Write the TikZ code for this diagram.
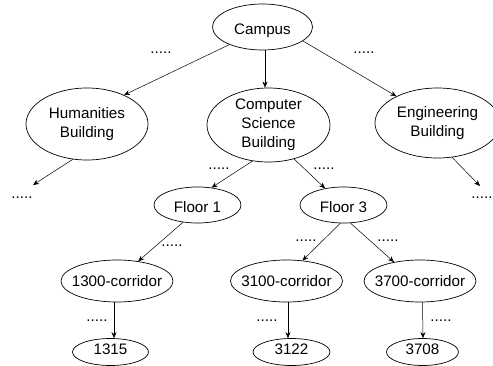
\documentclass[tikz,border=0pt]{standalone}
\usepackage{fontspec}
\setmainfont{Liberation Sans}
\usetikzlibrary{shapes.geometric,arrows.meta}
\begin{document}
\begin{tikzpicture}[x=1pt,y=-1pt,
  every node/.style={font=\fontsize{15.2}{19}\selectfont},
  ell/.style={draw, ellipse, line width=0.7pt, inner sep=0pt, align=center},
  low/.style={text height=15.5pt, text depth=0pt},
  corr/.style={ell, inner xsep=-6pt, minimum width=112pt, minimum height=42pt},
  room/.style={ell, minimum height=27pt, text depth=5pt},
  arr/.style={-{Stealth[length=6pt,width=5pt]}, line width=0.5pt},
  dotlbl/.style={inner sep=0pt}]
\useasboundingbox (0,0) rectangle (493,366);
\clip (0,0) rectangle (493,366);
% nodes
\node[ell, low, minimum width=100pt, minimum height=46pt] (campus) at (262.5,27) {Campus};
\node[ell, minimum width=122pt, minimum height=72pt] (hum) at (87,124) {Humanities\\Building};
\node[ell, inner ysep=-2pt, minimum width=123pt, minimum height=74pt] (cs) at (268.5,125) {Computer\\Science\\Building};
\node[ell, minimum width=125pt, minimum height=70pt] (eng) at (437.5,123) {Engineering\\Building};
\node[ell, low, minimum width=87pt, minimum height=36pt] (floor1) at (197.5,205) {Floor 1};
\node[ell, low, minimum width=87pt, minimum height=36pt] (floor3) at (343.5,205) {Floor 3};
\node[corr] (c1300) at (117,281) {1300-corridor};
\node[corr] (c3100) at (286.5,281) {3100-corridor};
\node[corr] (c3700) at (420,281) {3700-corridor};
\node[room, minimum width=76pt] (r1315) at (110.5,352) {1315};
\node[room, minimum width=77pt] (r3122) at (291.5,352) {3122};
\node[room, minimum width=72pt] (r3708) at (422.5,352) {3708};
% free ends
\coordinate (hend) at (33,185);
\coordinate (eend) at (480,186);
% dots
\node[dotlbl] (d1) at (161,53) {.....};
\node[dotlbl] (d2) at (364,53) {.....};
\node[dotlbl] (d3) at (219,169) {.....};
\node[dotlbl] (d4) at (324,169) {.....};
\node[dotlbl] (d5) at (22,198) {.....};
\node[dotlbl] (d6) at (482,198) {.....};
\node[dotlbl] (d7) at (172,246) {.....};
\node[dotlbl] (d8) at (306,241) {.....};
\node[dotlbl] (d9) at (388,241) {.....};
\node[dotlbl] (d10) at (97,321) {.....};
\node[dotlbl] (d11) at (267,321) {.....};
\node[dotlbl] (d12) at (441,321) {.....};
% connectors
\draw[arr] (campus.208) -- (hum.38);
\draw[arr] ([xshift=2.5pt]campus.south) -- ([xshift=-3.5pt]cs.north);
\draw[arr] (campus.-19) -- (eng.147);
\draw[arr] (hum.248) -- (hend);
\draw[arr] (cs.246) -- (floor1.51);
\draw[arr] (cs.307) -- (floor3.138);
\draw[arr] (eng.293) -- (eend);
\draw[arr] (floor1.230) -- (c1300.43);
\draw[arr] (floor3.260) -- (c3100.52);
\draw[arr] (floor3.291) -- (c3700.144);
\draw[arr] ([xshift=-3pt]c1300.south) -- ([xshift=3.5pt]r1315.north);
\draw[arr] ([xshift=1.5pt]c3100.south) -- ([xshift=-3.5pt]r3122.north);
\draw[arr] ([xshift=2.5pt]c3700.south) -- ([xshift=0.5pt]r3708.north);
\end{tikzpicture}
\end{document}
